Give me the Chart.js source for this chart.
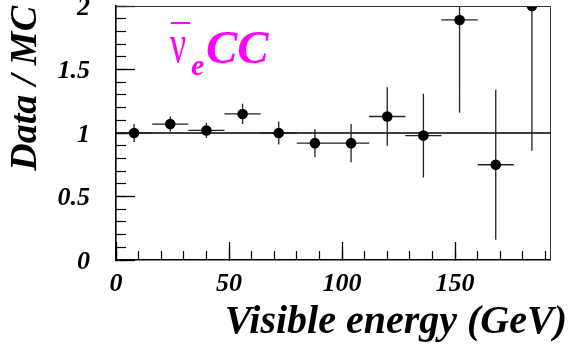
<!DOCTYPE html>
<html>
<head>
<meta charset="utf-8">
<script src="https://cdn.jsdelivr.net/npm/chart.js@4/dist/chart.umd.min.js"></script>
<style>
  html, body { margin: 0; padding: 0; background: #fff; }
  canvas { display: block; }
</style>
</head>
<body>
<canvas id="c" width="571" height="351"></canvas>
<script>
// Data / MC ratio per visible-energy bin (16 GeV wide bins)
const binCenters   = [8, 24, 40, 56, 72, 88, 104, 120, 136, 152, 168, 184];
const binHalfWidth = 8;
const ratio        = [1.00, 1.07, 1.02, 1.15, 1.00, 0.92, 0.92, 1.13, 0.98, 1.89, 0.75, 2.00];
const ratioErr     = [0.07, 0.06, 0.06, 0.08, 0.09, 0.11, 0.15, 0.23, 0.33, 0.73, 0.59, 1.14];
const unityLevel   = 1;

const xRange      = [0, 192];
const yRange      = [0, 2];
const xTickValues = [0, 50, 100, 150];
const xTickLabels = ['0', '50', '100', '150'];
const yTickValues = [0, 0.5, 1, 1.5, 2];
const yTickLabels = ['0', '0.5', '1', '1.5', '2'];

// Build point and error-bar series from the arrays above
const points = binCenters.map((x, i) => ({ x: x, y: ratio[i] }));
const xErrSegments = [];
const yErrSegments = [];
binCenters.forEach((x, i) => {
  xErrSegments.push({ x: x - binHalfWidth, y: ratio[i] }, { x: x + binHalfWidth, y: ratio[i] }, { x: x, y: null });
  yErrSegments.push({ x: x, y: ratio[i] - ratioErr[i] }, { x: x, y: ratio[i] + ratioErr[i] }, { x: x, y: null });
});
const unitySegment = [{ x: xRange[0], y: unityLevel }, { x: xRange[1], y: unityLevel }];

const serif = '"Liberation Serif", "Times New Roman", serif';
const tickFont = { family: serif, size: 26, weight: 'bold', style: 'italic' };

// Frame, x-axis title and the channel label
const decorations = {
  id: 'decorations',
  afterDraw(chart) {
    const { ctx, chartArea: a } = chart;
    ctx.save();
    ctx.strokeStyle = '#333';
    ctx.lineWidth = 1;
    ctx.beginPath();
    ctx.moveTo(a.left, a.top + 0.5);
    ctx.lineTo(a.right + 0.5, a.top + 0.5);
    ctx.lineTo(a.right + 0.5, a.bottom);
    ctx.stroke();

    ctx.fillStyle = '#000';
    ctx.font = 'italic bold 40px ' + serif;
    ctx.textAlign = 'right';
    ctx.textBaseline = 'alphabetic';
    ctx.fillText('Visible energy (GeV)', 567, 333);

    // anti electron-neutrino charged current label
    ctx.fillStyle = '#ff00ff';
    ctx.strokeStyle = '#ff00ff';
    ctx.textAlign = 'left';
    ctx.save();
    ctx.translate(170, 62);
    ctx.scale(0.66, 1);
    ctx.font = 'normal 54px ' + serif;
    ctx.fillText('\u03BD', 0, 0);
    ctx.restore();
    ctx.lineWidth = 2;
    ctx.beginPath();
    ctx.moveTo(171, 23);
    ctx.lineTo(190, 23);
    ctx.stroke();
    ctx.font = 'italic bold 30px ' + serif;
    ctx.fillText('e', 191, 75);
    ctx.font = 'italic bold 47px ' + serif;
    ctx.fillText('CC', 206, 63);
    ctx.restore();
  }
};

new Chart(document.getElementById('c'), {
  type: 'scatter',
  data: {
    datasets: [
      { data: points, pointRadius: 5.3, pointBackgroundColor: '#000', pointBorderWidth: 0, showLine: false, clip: 0 },
      { data: yErrSegments, showLine: true, spanGaps: false, pointRadius: 0, borderColor: '#222', borderWidth: 1.3, clip: 0 },
      { data: xErrSegments, showLine: true, spanGaps: false, pointRadius: 0, borderColor: '#222', borderWidth: 1.3, clip: 0 },
      { data: unitySegment, showLine: true, pointRadius: 0, borderColor: '#000', borderWidth: 1.3, clip: 0 }
    ]
  },
  options: {
    responsive: false,
    animation: false,
    devicePixelRatio: 1,
    events: [],
    layout: { padding: { top: 6, right: 21, left: 0, bottom: 0 } },
    plugins: { legend: { display: false }, tooltip: { enabled: false } },
    scales: {
      x: {
        type: 'linear', position: 'bottom', min: xRange[0], max: xRange[1], weight: 10,
        afterBuildTicks: s => { s.ticks = xTickValues.map(v => ({ value: v })); },
        afterFit: s => { s.height = 91; s.paddingLeft = 0; s.paddingRight = 0; },
        ticks: { callback: (v, i) => xTickLabels[i], font: tickFont, color: '#000', padding: 27, maxRotation: 0, autoSkip: false },
        grid: { drawOnChartArea: false, tickLength: -18, tickColor: '#000', tickWidth: 1.3 },
        border: { display: true, color: '#000', width: 1.6 }
      },
      xMinor: {
        type: 'linear', position: 'bottom', min: xRange[0], max: xRange[1], weight: 0,
        afterFit: s => { s.height = 0; s.paddingLeft = 0; s.paddingRight = 0; },
        ticks: { display: false, stepSize: 10, includeBounds: false },
        grid: { drawOnChartArea: false, tickLength: -9, tickColor: '#000', tickWidth: 1.2 },
        border: { display: false }
      },
      y: {
        type: 'linear', position: 'left', min: yRange[0], max: yRange[1], weight: 10,
        afterBuildTicks: s => { s.ticks = yTickValues.map(v => ({ value: v })); },
        afterFit: s => { s.width = 116; s.paddingTop = 0; s.paddingBottom = 0; },
        ticks: { callback: (v, i) => yTickLabels[i], font: tickFont, color: '#000', padding: 45, labelOffset: 2, autoSkip: false },
        grid: { drawOnChartArea: false, tickLength: -19, tickColor: '#000', tickWidth: 1.3 },
        border: { display: true, color: '#000', width: 1.6 },
        title: {
          display: true, text: 'Data / MC', align: 'end', color: '#000',
          font: { family: serif, size: 38, weight: 'bold', style: 'italic' },
          padding: { top: 3, bottom: 0 }
        }
      },
      yMinor: {
        type: 'linear', position: 'left', min: yRange[0], max: yRange[1], weight: 0,
        afterFit: s => { s.width = 0; s.paddingTop = 0; s.paddingBottom = 0; },
        ticks: { display: false, stepSize: 0.1 },
        grid: { drawOnChartArea: false, tickLength: -10, tickColor: '#000', tickWidth: 1.2 },
        border: { display: false }
      }
    }
  },
  plugins: [decorations]
});
</script>
</body>
</html>
